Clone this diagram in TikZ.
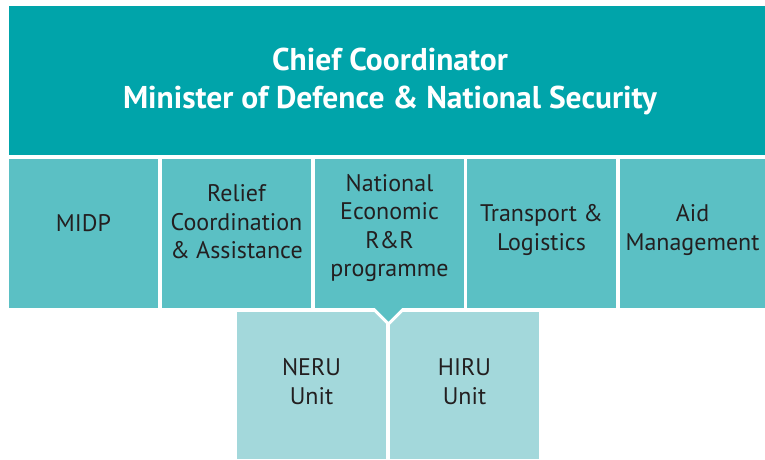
\documentclass[tikz,border=0pt]{standalone}
\usepackage{fontspec}
\setmainfont{PT Sans}
\usetikzlibrary{calc}
\definecolor{cTop}{RGB}{0,164,170}
\definecolor{cMid}{RGB}{91,192,196}
\definecolor{cLow}{RGB}{163,216,219}
\definecolor{cTxt}{RGB}{35,31,32}
\begin{document}
\begin{tikzpicture}[x=1pt,y=-1pt,
  box/.style={inner sep=0pt, outer sep=0pt, minimum width=149pt, minimum height=149pt},
  midbox/.style={box, fill=cMid},
  lowbox/.style={box, fill=cLow, minimum height=147pt},
  lbl/.style={font=\fontsize{24}{28.5}\selectfont, text=cTxt, align=center, inner sep=0pt},
  head/.style={font=\fontsize{31.5}{38}\selectfont\bfseries, text=white, align=center, inner sep=0pt}]
\useasboundingbox[fill=white] (0,0) rectangle (765,459);
% top
\node[box, fill=cTop, minimum width=756pt] (chief) at (387,80.5) {};
\node[head] (chieft) at (390,81.5) {Chief Coordinator\\Minister of Defence \& National Security};
% middle row
\node[midbox] (midp) at (83.5,233.5) {};
\node[midbox] (relief) at (236.5,233.5) {};
\node[midbox] (nat) at (389.5,233.5) {};
\node[midbox] (trans) at (541.5,233.5) {};
\node[midbox, minimum width=145pt] (aid) at (692.5,233.5) {};
% bottom row
\node[lowbox] (neru) at (311.5,385.5) {};
\node[lowbox] (hiru) at (464.5,385.5) {};
% pointer
\fill[white] ($(nat.south)+(-19.2,0)$) -- ($(nat.south)+(17.2,0)$) -- ($(nat.south)+(-1,18.2)$) -- cycle;
\fill[cMid] ($(nat.south)+(-16.5,-2)$) -- ($(nat.south)+(14.5,-2)$) -- ($(nat.south)+(-1,13.5)$) -- cycle;
% labels
\node[lbl] (midpt) at (midp.center |- 0,223.5) {MIDP};
\node[lbl] (relieft) at (relief.center |- 0,221.8) {Relief\\Coordination\\\& Assistance};
\node[lbl] (natt) at (nat.center |- 0,228) {National\\Economic\\R\&R\\programme};
\node[lbl] (transt) at (trans.center |- 0,230) {Transport \&\\Logistics};
\node[lbl] (aidt) at (aid.center |- 0,230) {Aid\\Management};
\node[lbl] (nerut) at (neru.center |- 0,381.5) {NERU\\Unit};
\node[lbl] (hirut) at (hiru.center |- 0,381.5) {HIRU\\Unit};
\end{tikzpicture}
\end{document}
